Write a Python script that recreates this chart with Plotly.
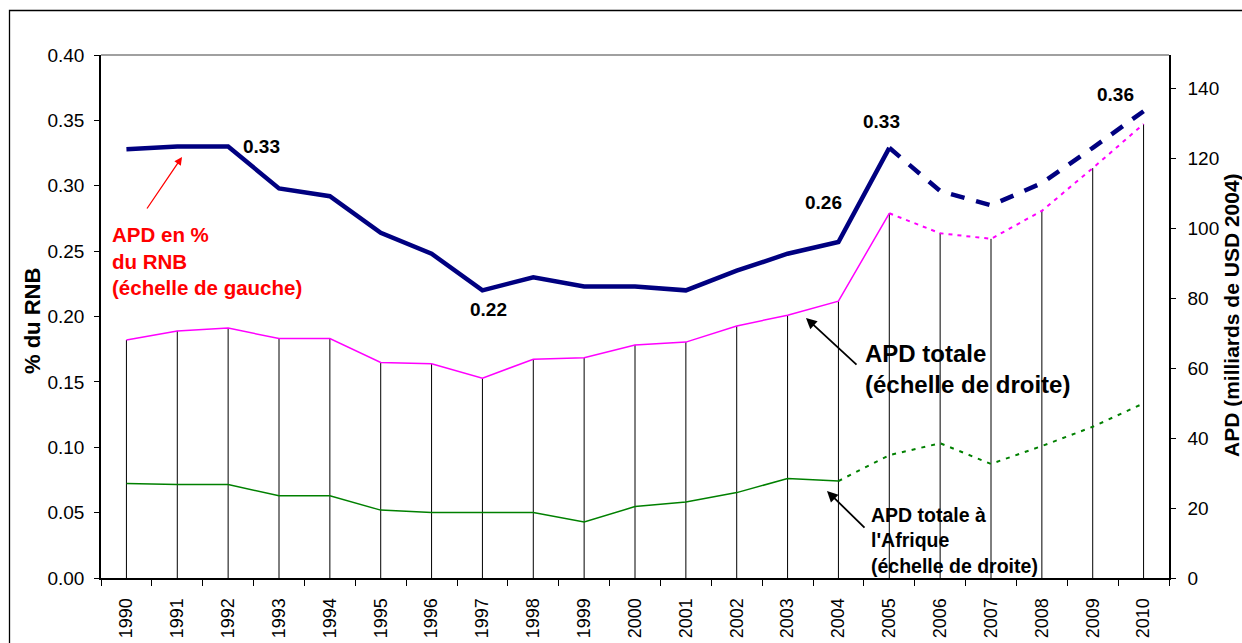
import plotly.graph_objects as go

years = [str(y) for y in range(1990, 2011)]

# APD en % du RNB (left axis)
apd_gni = [0.328, 0.330, 0.330, 0.298, 0.292, 0.264, 0.248, 0.220, 0.230, 0.223,
           0.223, 0.220, 0.235, 0.248, 0.257, 0.329, 0.296, 0.285, 0.302, 0.329, 0.357]
# APD totale, milliards USD 2004 (right axis)
apd_total = [68.0, 70.6, 71.4, 68.4, 68.4, 61.6, 61.2, 57.1, 62.5, 62.9,
             66.6, 67.4, 72.0, 75.1, 79.1, 104.2, 98.5, 96.9, 104.9, 117.1, 129.7]
# APD totale a l'Afrique (right axis)
apd_africa = [27.0, 26.7, 26.7, 23.5, 23.5, 19.4, 18.7, 18.7, 18.7, 16.0,
              20.4, 21.7, 24.4, 28.4, 27.7, 35.1, 38.5, 32.6, 37.7, 43.2, 49.9]

label_years = ["1992", "1997", "2004", "2005", "2010"]
label_texts = ["0.33", "0.22", "0.26", "0.33", "0.36"]
label_shift = [(33, 0), (6, -19), (-15, 39), (-8, 26), (-28, 17)]

i05 = years.index("2005")
i04 = years.index("2004")

FONT = "Arial, Liberation Sans, sans-serif"

fig = go.Figure()

# vertical drop lines (from 0 up to total ODA)
drop_x, drop_y = [], []
for yr, v in zip(years, apd_total):
    drop_x += [yr, yr, None]
    drop_y += [0, v, None]
fig.add_trace(go.Scatter(x=drop_x, y=drop_y, yaxis="y2", mode="lines",
                         line=dict(color="black", width=1), showlegend=False, hoverinfo="skip"))

# pink total
fig.add_trace(go.Scatter(x=years[:i05 + 1], y=apd_total[:i05 + 1], yaxis="y2", mode="lines",
                         line=dict(color="#FF00FF", width=1.5), showlegend=False))
fig.add_trace(go.Scatter(x=years[i05:], y=apd_total[i05:], yaxis="y2", mode="lines",
                         line=dict(color="#FF00FF", width=2, dash="4px,5px"), showlegend=False))
# green Africa
fig.add_trace(go.Scatter(x=years[:i04 + 1], y=apd_africa[:i04 + 1], yaxis="y2", mode="lines",
                         line=dict(color="#008000", width=1.5), showlegend=False))
fig.add_trace(go.Scatter(x=years[i04:], y=apd_africa[i04:], yaxis="y2", mode="lines",
                         line=dict(color="#008000", width=2, dash="4px,6px"), showlegend=False))
# blue % GNI
fig.add_trace(go.Scatter(x=years[:i05 + 1], y=apd_gni[:i05 + 1], yaxis="y", mode="lines",
                         line=dict(color="#000080", width=4.5), showlegend=False))
fig.add_trace(go.Scatter(x=years[i05:], y=apd_gni[i05:], yaxis="y", mode="lines",
                         line=dict(color="#000080", width=4.5, dash="14px,12px"), showlegend=False))

annotations = []
for yr, txt, (dx, dy) in zip(label_years, label_texts, label_shift):
    idx = years.index(yr)
    annotations.append(dict(x=idx, y=apd_gni[idx], xref="x", yref="y",
                            text="<b>%s</b>" % txt, showarrow=False, xshift=dx, yshift=dy,
                            font=dict(family=FONT, size=19, color="black")))

def px_x(p):
    return (p - 101) / 1068.0

def px_y(p):
    return (578 - p) / 523.0

# red text + arrow
annotations.append(dict(x=px_x(110), y=px_y(260.5), xref="paper", yref="paper",
                        xanchor="left", yanchor="middle", align="left", showarrow=False,
                        text="<b>APD en %<br>du RNB<br>(échelle de gauche)</b>",
                        font=dict(family=FONT, size=20.5, color="#FF0000")))
annotations.append(dict(x=px_x(182), y=px_y(157), xref="paper", yref="paper", text="",
                        showarrow=True, ax=-36, ay=53, arrowhead=2, arrowsize=1.2,
                        arrowwidth=1.3, arrowcolor="#FF0000"))
# APD totale text + arrow
annotations.append(dict(x=px_x(863), y=px_y(369), xref="paper", yref="paper",
                        xanchor="left", yanchor="middle", align="left", showarrow=False,
                        text="<b>APD totale<br>(échelle de droite)</b>",
                        font=dict(family=FONT, size=24, color="black")))
annotations.append(dict(x=px_x(806), y=px_y(318), xref="paper", yref="paper", text="",
                        showarrow=True, ax=52, ay=48, arrowhead=2, arrowsize=1.2,
                        arrowwidth=1.8, arrowcolor="black"))
# Afrique text + arrow
annotations.append(dict(x=px_x(869), y=px_y(540.5), xref="paper", yref="paper",
                        xanchor="left", yanchor="middle", align="left", showarrow=False,
                        text="<b>APD totale à<br>l'Afrique<br>(échelle de droite)</b>",
                        font=dict(family=FONT, size=19.5, color="black")))
annotations.append(dict(x=px_x(827), y=px_y(491), xref="paper", yref="paper", text="",
                        showarrow=True, ax=39, ay=38, arrowhead=2, arrowsize=1.2,
                        arrowwidth=1.8, arrowcolor="black"))
# axis titles
annotations.append(dict(x=px_x(33), y=px_y(321), xref="paper", yref="paper", showarrow=False,
                        text="<b>% du RNB</b>", textangle=-90, xanchor="center", yanchor="middle",
                        font=dict(family=FONT, size=22, color="black")))
annotations.append(dict(x=px_x(1231), y=px_y(315), xref="paper", yref="paper", showarrow=False,
                        text="<b>APD (milliards de USD 2004)</b>", textangle=-90,
                        xanchor="center", yanchor="middle",
                        font=dict(family=FONT, size=21, color="black")))

shapes = [
    dict(type="line", xref="paper", yref="paper", x0=0, x1=1, y0=1, y1=1,
         line=dict(color="#808080", width=1.5)),
    dict(type="rect", xref="paper", yref="paper", x0=px_x(9.5), x1=1.5, y0=-0.5, y1=px_y(10.5),
         line=dict(color="black", width=1.3), layer="below"),
]

fig.update_layout(
    width=1242, height=643, autosize=False,
    margin=dict(l=101, r=73, t=55, b=65),
    paper_bgcolor="white", plot_bgcolor="white",
    font=dict(family=FONT, color="black"),
    xaxis=dict(type="category", categoryorder="array", categoryarray=years,
               tickson="boundaries", ticks="outside", ticklen=6, tickcolor="black",
               showline=True, linecolor="black", linewidth=2, showgrid=False,
               tickangle=-90, tickfont=dict(size=18), ticklabelstandoff=11,
               range=[-0.5, 20.5], automargin=False),
    yaxis=dict(range=[0, 0.4], dtick=0.05, tickformat=".2f", ticks="outside", ticklen=5,
               tickcolor="black", showline=True, linecolor="black", linewidth=1.5,
               showgrid=False, zeroline=False, tickfont=dict(size=19), ticklabelstandoff=6,
               automargin=False),
    yaxis2=dict(overlaying="y", side="right", range=[0, 149.43], dtick=20, ticks="outside",
                ticklen=5, tickcolor="black", showline=True, linecolor="black", linewidth=1.5,
                showgrid=False, zeroline=False, tickfont=dict(size=19), ticklabelstandoff=8,
                automargin=False),
    annotations=annotations,
    shapes=shapes,
)

fig.write_html("out.html", config={"displayModeBar": False},
               post_script="document.body.style.margin='0px';")
